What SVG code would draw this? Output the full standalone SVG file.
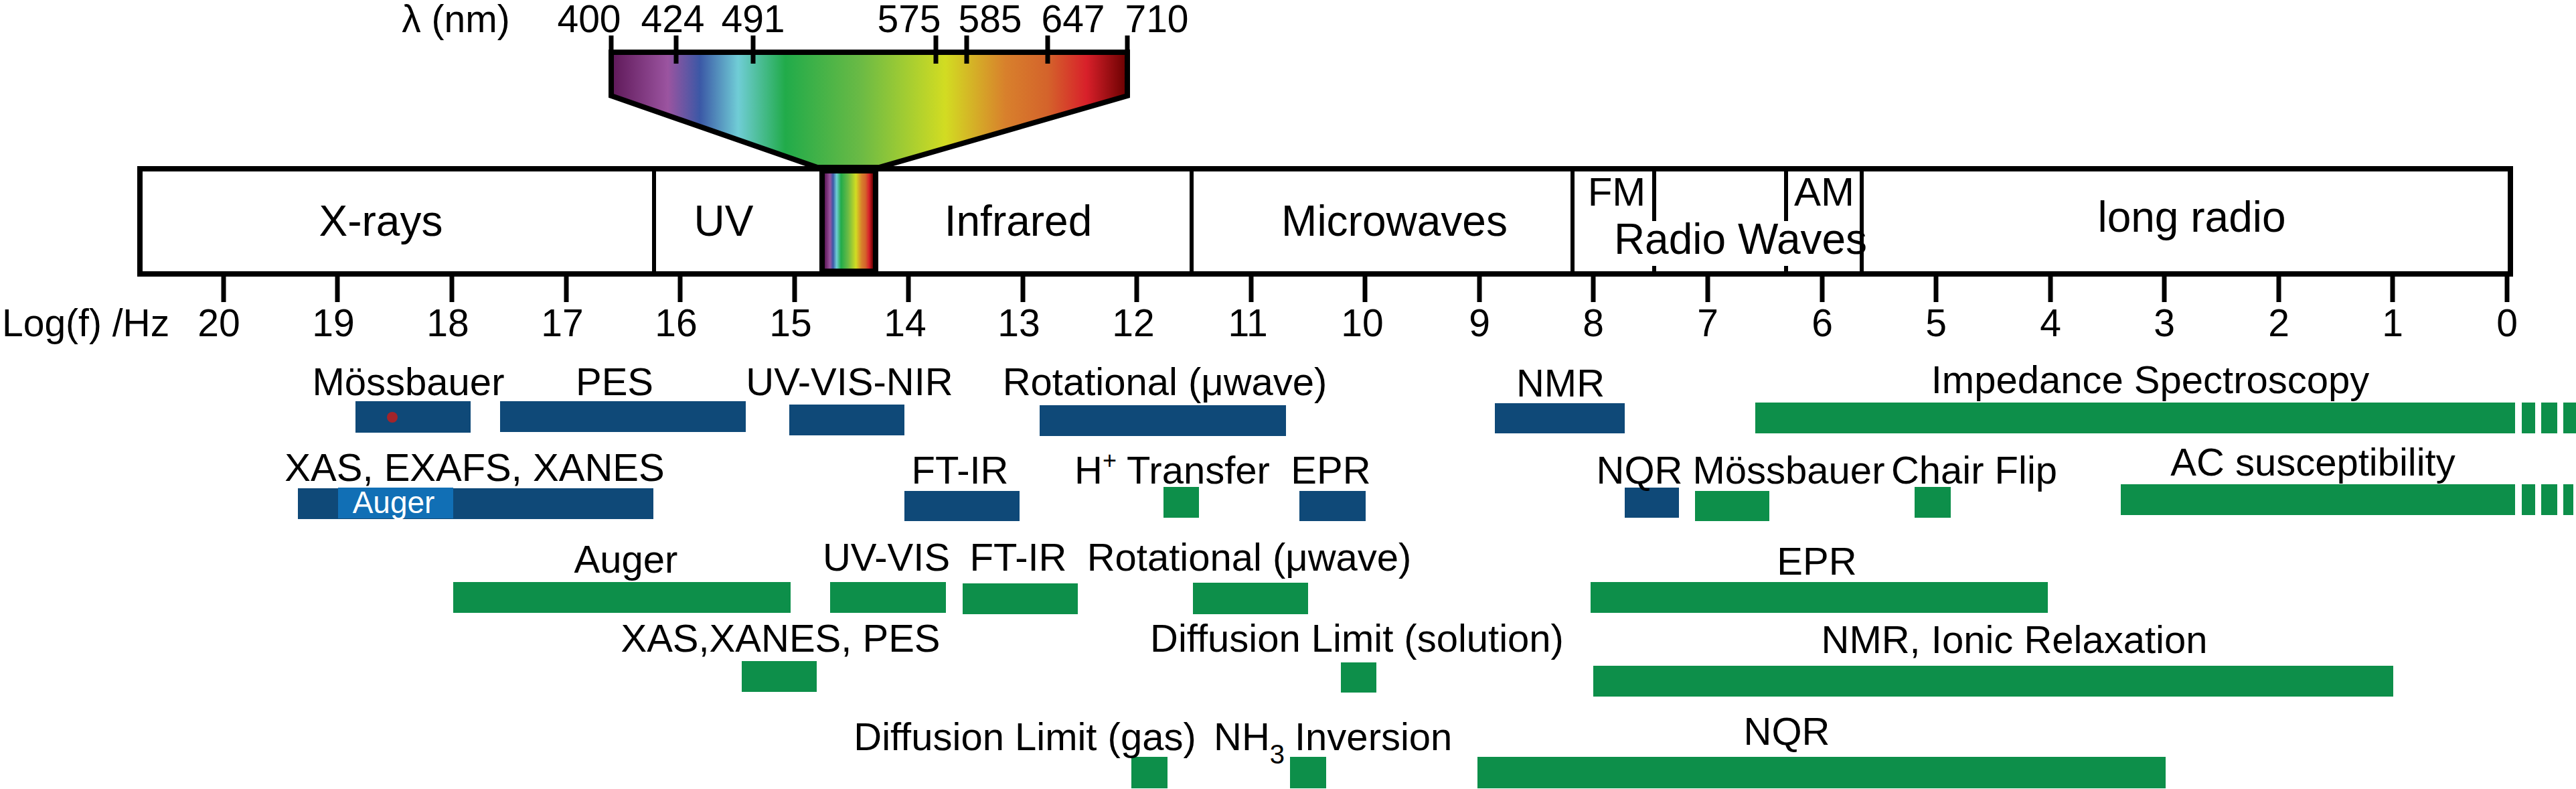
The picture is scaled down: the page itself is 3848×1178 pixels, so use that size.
<svg xmlns="http://www.w3.org/2000/svg" width="3848" height="1178" viewBox="0 0 3848 1178">
<style>
text{font-family:"Liberation Sans",Arial,Helvetica,sans-serif;fill:#000}
.lb{font-size:58px;text-anchor:middle}
.bx{font-size:64px;text-anchor:middle}
.tk{font-size:57px;text-anchor:middle}
.b{fill:#0f4978}
.g{fill:#0d8f4a}
.ln{stroke:#000;stroke-width:7;fill:none}
.dv{stroke:#000;stroke-width:6;fill:none}
</style>
<defs>
<linearGradient id="spec" x1="0" y1="0" x2="1" y2="0">
<stop offset="0" stop-color="#5e1858"/>
<stop offset="0.11" stop-color="#9b54a0"/>
<stop offset="0.172" stop-color="#3b58a6"/>
<stop offset="0.246" stop-color="#70cdd6"/>
<stop offset="0.337" stop-color="#21ab4a"/>
<stop offset="0.482" stop-color="#6aba45"/>
<stop offset="0.647" stop-color="#d2dc22"/>
<stop offset="0.764" stop-color="#d8802c"/>
<stop offset="0.846" stop-color="#d4632b"/>
<stop offset="0.921" stop-color="#d8202a"/>
<stop offset="1" stop-color="#680000"/>
</linearGradient>
</defs>

<g id="spectrum">
<polygon points="913,78 1684,78 1684,143 1313,250 1221,250 913,143" fill="url(#spec)" stroke="#000" stroke-width="8" stroke-linejoin="miter"/>
<g class="ln">
<line x1="913" y1="53" x2="913" y2="80"/>
<line x1="1010" y1="53" x2="1010" y2="95"/>
<line x1="1125" y1="53" x2="1125" y2="95"/>
<line x1="1398" y1="53" x2="1398" y2="95"/>
<line x1="1444" y1="53" x2="1444" y2="95"/>
<line x1="1565" y1="53" x2="1565" y2="95"/>
<line x1="1684" y1="53" x2="1684" y2="80"/>
</g>
<text class="tk" x="681" y="48">λ (nm)</text>
<text class="tk" x="880" y="48">400</text>
<text class="tk" x="1005" y="48">424</text>
<text class="tk" x="1125" y="48">491</text>
<text class="tk" x="1358" y="48">575</text>
<text class="tk" x="1479" y="48">585</text>
<text class="tk" x="1603" y="48">647</text>
<text class="tk" x="1728" y="48">710</text>
</g>

<g id="band-box">
<rect x="209" y="252" width="3541" height="157" fill="#fff" stroke="#000" stroke-width="8"/>
<g class="dv">
<line x1="977" y1="252" x2="977" y2="409"/>
<line x1="1780" y1="252" x2="1780" y2="409"/>
<line x1="2349" y1="252" x2="2349" y2="409"/>
<line x1="2471" y1="252" x2="2471" y2="330"/>
<line x1="2471" y1="397" x2="2471" y2="409"/>
<line x1="2668" y1="252" x2="2668" y2="330"/>
<line x1="2668" y1="397" x2="2668" y2="409"/>
<line x1="2781" y1="252" x2="2781" y2="409"/>
</g>
<rect x="1224" y="248" width="88" height="164" fill="#000"/>
<rect x="1232" y="259" width="72" height="142" fill="url(#spec)"/>
<text class="bx" x="569" y="352">X-rays</text>
<text class="bx" x="1081" y="352">UV</text>
<text class="bx" x="1521" y="352">Infrared</text>
<text class="bx" x="2083" y="352">Microwaves</text>
<text class="bx" x="2415" y="307" style="font-size:60px">FM</text>
<text class="bx" x="2725" y="307" style="font-size:60px">AM</text>
<text class="bx" x="2600" y="379">Radio Waves</text>
<text class="bx" x="3274" y="346">long radio</text>
</g>

<g id="axis">
<g class="ln">
<line x1="334" y1="413" x2="334" y2="451"/>
<line x1="504" y1="413" x2="504" y2="451"/>
<line x1="675" y1="413" x2="675" y2="451"/>
<line x1="846" y1="413" x2="846" y2="451"/>
<line x1="1016" y1="413" x2="1016" y2="451"/>
<line x1="1187" y1="413" x2="1187" y2="451"/>
<line x1="1357" y1="413" x2="1357" y2="451"/>
<line x1="1528" y1="413" x2="1528" y2="451"/>
<line x1="1698" y1="413" x2="1698" y2="451"/>
<line x1="1869" y1="413" x2="1869" y2="451"/>
<line x1="2039" y1="413" x2="2039" y2="451"/>
<line x1="2210" y1="413" x2="2210" y2="451"/>
<line x1="2380" y1="413" x2="2380" y2="451"/>
<line x1="2551" y1="413" x2="2551" y2="451"/>
<line x1="2722" y1="413" x2="2722" y2="451"/>
<line x1="2892" y1="413" x2="2892" y2="451"/>
<line x1="3063" y1="413" x2="3063" y2="451"/>
<line x1="3233" y1="413" x2="3233" y2="451"/>
<line x1="3404" y1="413" x2="3404" y2="451"/>
<line x1="3574" y1="413" x2="3574" y2="451"/>
<line x1="3745" y1="413" x2="3745" y2="451"/>
</g>
<text x="3" y="502" style="font-size:57px">Log(f) /Hz</text>
<text class="tk" x="327" y="502">20</text>
<text class="tk" x="498" y="502">19</text>
<text class="tk" x="669" y="502">18</text>
<text class="tk" x="840" y="502">17</text>
<text class="tk" x="1010" y="502">16</text>
<text class="tk" x="1181" y="502">15</text>
<text class="tk" x="1352" y="502">14</text>
<text class="tk" x="1522" y="502">13</text>
<text class="tk" x="1693" y="502">12</text>
<text class="tk" x="1864" y="502">11</text>
<text class="tk" x="2035" y="502">10</text>
<text class="tk" x="2210" y="502">9</text>
<text class="tk" x="2380" y="502">8</text>
<text class="tk" x="2551" y="502">7</text>
<text class="tk" x="2722" y="502">6</text>
<text class="tk" x="2892" y="502">5</text>
<text class="tk" x="3063" y="502">4</text>
<text class="tk" x="3233" y="502">3</text>
<text class="tk" x="3404" y="502">2</text>
<text class="tk" x="3574" y="502">1</text>
<text class="tk" x="3745" y="502">0</text>
</g>

<g id="connectors"></g>

<!-- Row 1 -->
<g id="mossbauer-1"><rect class="b" x="531" y="599" width="172" height="47"/><circle cx="586" cy="623" r="8" fill="#a3242a"/><text class="lb" x="610" y="590">Mössbauer</text></g>
<g id="pes-1"><rect class="b" x="747" y="599" width="367" height="46"/><text class="lb" x="918" y="590">PES</text></g>
<g id="uvvisnir-1"><rect class="b" x="1179" y="604" width="172" height="46"/><text class="lb" x="1269" y="590">UV-VIS-NIR</text></g>
<g id="rotational-1"><rect class="b" x="1553" y="605" width="368" height="46"/><text class="lb" x="1740" y="590">Rotational (μwave)</text></g>
<g id="nmr-1"><rect class="b" x="2233" y="602" width="194" height="45"/><text class="lb" x="2331" y="592">NMR</text></g>
<g id="impedance"><rect class="g" x="2622" y="601" width="1135" height="46"/><rect class="g" x="3767" y="601" width="20" height="46"/><rect class="g" x="3796" y="601" width="24" height="46"/><rect class="g" x="3829" y="601" width="19" height="46"/><text class="lb" x="3212" y="587">Impedance Spectroscopy</text></g>

<!-- Row 2 -->
<g id="xas-1"><rect class="b" x="445" y="729" width="531" height="46"/><rect x="505" y="728" width="172" height="46" fill="#116fb5"/><text x="588" y="766" style="font-size:46px;text-anchor:middle;fill:#fff">Auger</text><text class="lb" x="709" y="718">XAS, EXAFS, XANES</text></g>
<g id="ftir-1"><rect class="b" x="1351" y="733" width="172" height="45"/><text class="lb" x="1434" y="722">FT-IR</text></g>
<g id="htransfer"><rect class="g" x="1738" y="727" width="53" height="46"/><text class="lb" x="1751" y="722">H<tspan style="font-size:36px" dy="-22">+</tspan><tspan dy="22"> Transfer</tspan></text></g>
<g id="epr-1"><rect class="b" x="1941" y="733" width="99" height="45"/><text class="lb" x="1988" y="722">EPR</text></g>
<g id="nqr-1"><rect class="b" x="2427" y="728" width="81" height="45"/><text class="lb" x="2449" y="722">NQR</text></g>
<g id="mossbauer-2"><rect class="g" x="2532" y="733" width="111" height="45"/><text class="lb" x="2672" y="722">Mössbauer</text></g>
<g id="chairflip"><rect class="g" x="2860" y="727" width="54" height="46"/><text class="lb" x="2949" y="722">Chair Flip</text></g>
<g id="acsus"><rect class="g" x="3168" y="723" width="589" height="46"/><rect class="g" x="3767" y="723" width="20" height="46"/><rect class="g" x="3796" y="723" width="24" height="46"/><rect class="g" x="3829" y="723" width="15" height="46"/><text class="lb" x="3455" y="710">AC susceptibility</text></g>

<!-- Row 3 -->
<g id="auger-2"><rect class="g" x="677" y="869" width="504" height="46"/><text class="lb" x="935" y="855">Auger</text></g>
<g id="uvvis-2"><rect class="g" x="1240" y="869" width="173" height="46"/><text class="lb" x="1324" y="852">UV-VIS</text></g>
<g id="ftir-2"><rect class="g" x="1438" y="871" width="172" height="46"/><text class="lb" x="1521" y="852">FT-IR</text></g>
<g id="rotational-2"><rect class="g" x="1782" y="870" width="172" height="47"/><text class="lb" x="1866" y="852">Rotational (μwave)</text></g>
<g id="epr-2"><rect class="g" x="2376" y="869" width="683" height="46"/><text class="lb" x="2714" y="858">EPR</text></g>

<!-- Row 4 -->
<g id="xas-2"><rect class="g" x="1108" y="987" width="112" height="46"/><text class="lb" x="1166" y="973">XAS,XANES, PES</text></g>
<g id="diff-sol"><rect class="g" x="2003" y="989" width="53" height="45"/><text class="lb" x="2027" y="973">Diffusion Limit (solution)</text></g>
<g id="nmr-2"><rect class="g" x="2380" y="994" width="1195" height="46"/><text class="lb" x="3009" y="975">NMR, Ionic Relaxation</text></g>

<!-- Row 5 -->
<g id="diff-gas"><rect class="g" x="1690" y="1130" width="54" height="47"/><text class="lb" x="1531" y="1120">Diffusion Limit (gas)</text></g>
<g id="nh3"><rect class="g" x="1927" y="1130" width="54" height="47"/><text x="1813" y="1120" style="font-size:58px">NH<tspan style="font-size:40px" dy="20">3</tspan><tspan x="1934" dy="-20">Inversion</tspan></text></g>
<g id="nqr-2"><rect class="g" x="2207" y="1130" width="1028" height="47"/><text class="lb" x="2669" y="1112">NQR</text></g>
</svg>
